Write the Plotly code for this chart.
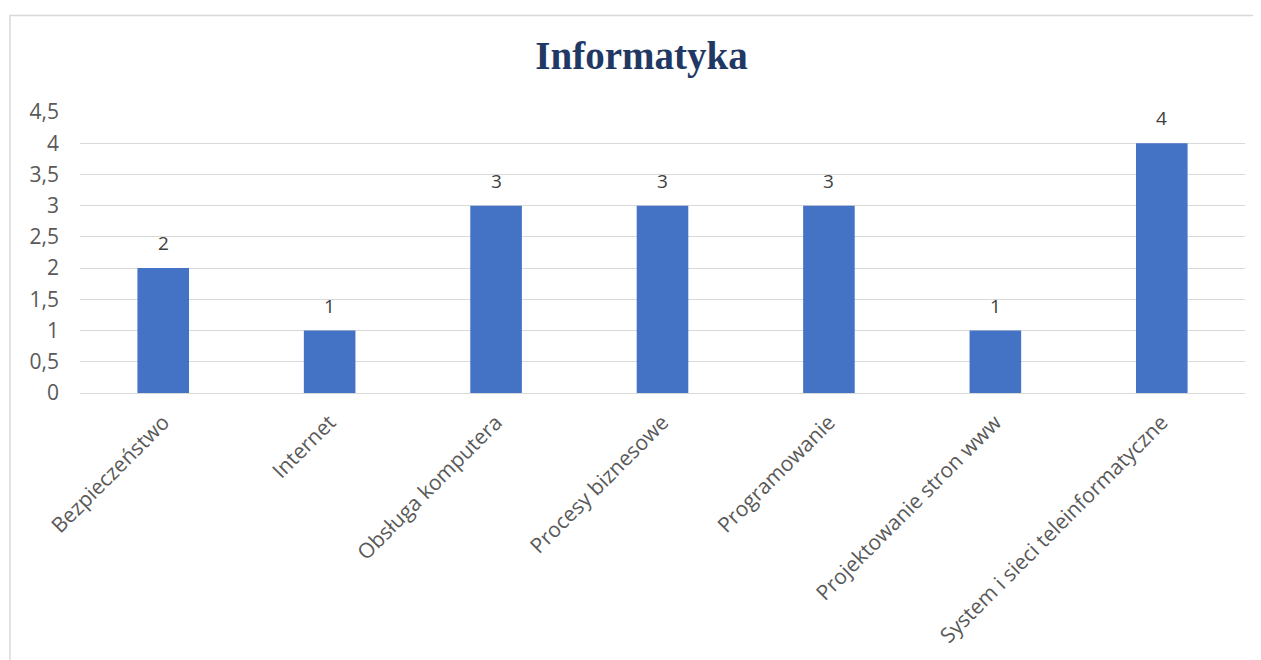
import plotly.graph_objects as go

categories = [
    "Bezpieczeństwo",
    "Internet",
    "Obsługa komputera",
    "Procesy biznesowe",
    "Programowanie",
    "Projektowanie stron www",
    "System i sieci teleinformatyczne",
]
values = [2, 1, 3, 3, 3, 1, 4]
y_ticks = [0, 0.5, 1, 1.5, 2, 2.5, 3, 3.5, 4, 4.5]

# page body has an 8px margin, so the figure is 8px smaller than the window
W, H = 1253, 652
L, R, T, B = 72, 16, 104, 263
pw, ph = W - L - R, H - T - B

fig = go.Figure()
fig.add_trace(go.Bar(
    x=categories,
    y=values,
    marker=dict(color="#4472C4", line=dict(width=0)),
    hoverinfo="x+y",
))

# value labels above the bars
for cat, v in zip(categories, values):
    fig.add_annotation(
        x=cat, y=v, text=str(v), showarrow=False,
        yanchor="bottom", yshift=10,
        font=dict(family="Open Sans", size=19, color="#404040"),
    )

# chart frame (left and top edges of the Excel chart area)
fig.add_shape(
    type="rect", xref="paper", yref="paper",
    x0=(2 - L) / pw, x1=(W + 20 - L) / pw,
    y0=-(H + 20 - T - ph) / ph, y1=(H - B - 6) / ph,
    line=dict(color="#d9d9d9", width=1.5), layer="below",
)

fig.update_layout(
    width=W,
    height=H,
    separators=", ",
    title=dict(
        text="<b>Informatyka</b>",
        x=0.482, xref="paper", xanchor="center", y=1 - 47 / H, yanchor="middle",
        font=dict(family="Liberation Serif", size=39, color="#1F3864"),
    ),
    plot_bgcolor="white",
    paper_bgcolor="white",
    bargap=0.69,
    showlegend=False,
    margin=dict(l=L, r=R, t=T, b=B),
    xaxis=dict(
        tickangle=-45,
        tickfont=dict(family="Open Sans", size=21, color="#595959"),
        showline=False,
        ticks="",
        ticklabelstandoff=12,
    ),
    yaxis=dict(
        range=[0, 4.5],
        tickvals=y_ticks,
        tickfont=dict(family="Open Sans", size=21, color="#595959"),
        gridcolor="#d9d9d9",
        gridwidth=1,
        zeroline=True,
        zerolinecolor="#d9d9d9",
        zerolinewidth=1,
        showline=False,
        ticks="",
        ticklabelstandoff=20,
    ),
)

fig.write_html("out.html")
